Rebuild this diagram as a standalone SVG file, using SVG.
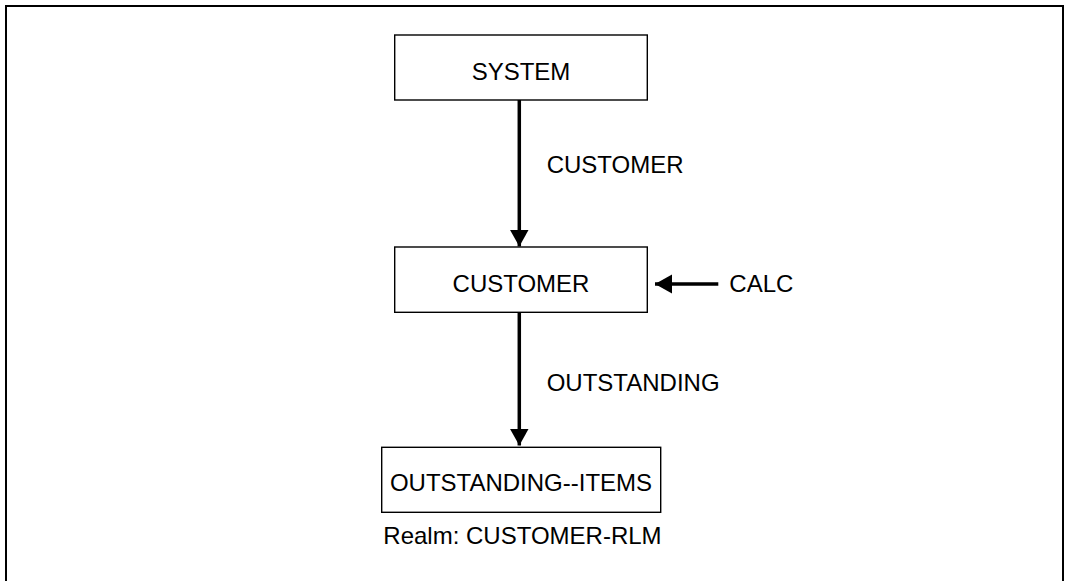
<svg xmlns="http://www.w3.org/2000/svg" width="1067" height="581" viewBox="0 0 1067 581">
  <style>
    .box { fill: #ffffff; stroke: #000000; stroke-width: 1.4; }
    .label { font-family: "Liberation Sans", Arial, sans-serif; font-size: 24px; fill: #000000; }
    .mid { text-anchor: middle; }
    .edge { stroke: #000000; stroke-width: 3.5; fill: none; }
    .frame { stroke: #000000; stroke-width: 2; fill: none; }
  </style>
  <defs>
    <marker id="head" markerUnits="userSpaceOnUse" markerWidth="18" markerHeight="20" refX="17" refY="10" orient="auto">
      <path d="M0,0.5 L17,10 L0,19.5 Z" fill="#000000"/>
    </marker>
  </defs>

  <rect width="1067" height="581" fill="#ffffff"/>
  <!-- open frame: left, top and right sides only -->
  <path class="frame" d="M6,581 V6 H1063 V581"/>

  <g id="connectors">
    <line class="edge" x1="519.3" y1="100" x2="519.3" y2="246.5" marker-end="url(#head)"/>
    <text class="label" x="546.7" y="173.3">CUSTOMER</text>
    <line class="edge" x1="519.3" y1="312" x2="519.3" y2="445.5" marker-end="url(#head)"/>
    <text class="label" x="546.7" y="390.7">OUTSTANDING</text>
    <line class="edge" x1="718.3" y1="284" x2="655" y2="284" marker-end="url(#head)"/>
    <text class="label" x="729.3" y="291.7">CALC</text>
  </g>

  <g id="node-system">
    <rect class="box" x="394.7" y="35" width="252.6" height="65"/>
    <text class="label mid" x="521" y="80">SYSTEM</text>
  </g>

  <g id="node-customer">
    <rect class="box" x="394.7" y="247" width="252.6" height="65.3"/>
    <text class="label mid" x="521" y="291.7">CUSTOMER</text>
  </g>

  <g id="node-outstanding-items">
    <rect class="box" x="381.7" y="447.3" width="279" height="65"/>
    <text class="label mid" x="521" y="491">OUTSTANDING--ITEMS</text>
    <text class="label" x="383.3" y="544">Realm: CUSTOMER-RLM</text>
  </g>
</svg>
